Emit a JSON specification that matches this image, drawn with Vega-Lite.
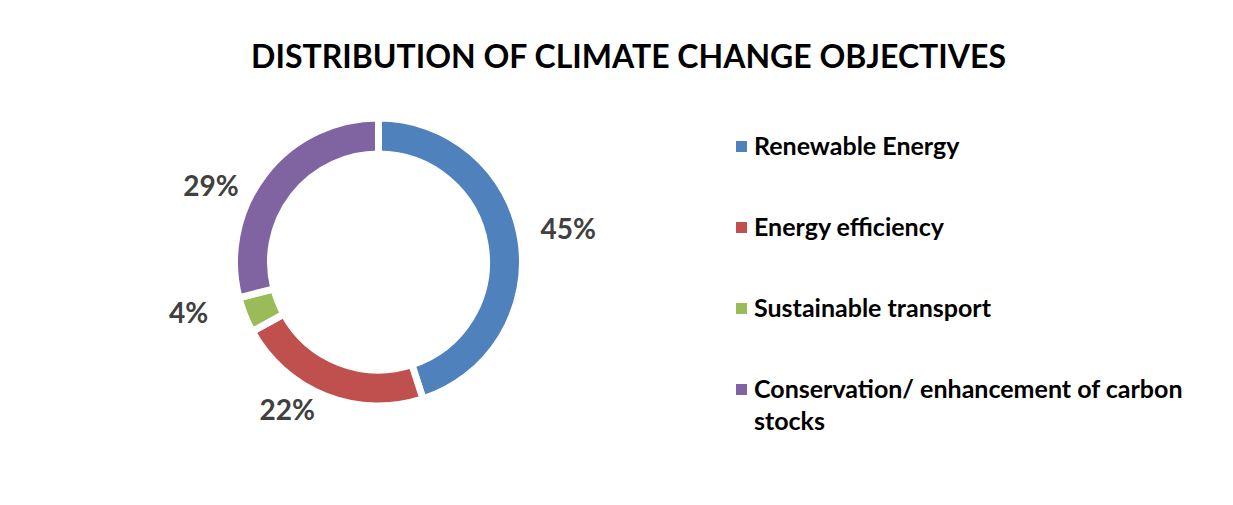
{
  "$schema": "https://vega.github.io/schema/vega-lite/v6.json",
  "autosize": "none",
  "width": 561,
  "height": 322,
  "padding": {"left": 98, "top": 101, "right": 574, "bottom": 82},
  "background": "white",
  "config": {
    "style": {"guide-label": {"lineHeight": 32}}
  },
  "title": {
    "text": "DISTRIBUTION OF CLIMATE CHANGE OBJECTIVES",
    "font": "Lato",
    "fontSize": 32,
    "fontWeight": "bold",
    "color": "#000000",
    "anchor": "middle",
    "dx": 250,
    "offset": 26,
    "limit": 1200
  },
  "data": {
    "values": [
      {"category": "Renewable Energy", "share": 45, "label": "45%", "order": 1},
      {"category": "Energy efficiency", "share": 22, "label": "22%", "order": 2},
      {"category": "Sustainable transport", "share": 4, "label": "4%", "order": 3},
      {"category": "Conservation/ enhancement of carbon stocks", "share": 29, "label": "29%", "order": 4}
    ]
  },
  "encoding": {
    "theta": {"field": "share", "type": "quantitative", "stack": true},
    "order": {"field": "order", "type": "quantitative"}
  },
  "layer": [
    {
      "mark": {"type": "arc", "innerRadius": 108, "outerRadius": 144, "stroke": "white", "strokeWidth": 7},
      "encoding": {
        "color": {
          "field": "category",
          "type": "nominal",
          "sort": ["Renewable Energy", "Energy efficiency", "Sustainable transport", "Conservation/ enhancement of carbon stocks"],
          "scale": {
            "domain": ["Renewable Energy", "Energy efficiency", "Sustainable transport", "Conservation/ enhancement of carbon stocks"],
            "range": ["#4F81BD", "#C0504D", "#9BBB59", "#8064A2"]
          },
          "legend": {
            "title": null,
            "orient": "none",
            "legendX": 631,
            "legendY": 33,
            "symbolType": "square",
            "symbolSize": 121,
            "symbolStrokeWidth": 0,
            "labelFont": "Lato",
            "labelFontSize": 25,
            "labelFontWeight": "bold",
            "labelColor": "#000000",
            "labelOffset": 0,
            "labelLimit": 600,
            "rowPadding": 55,
            "labelBaseline": "middle",
            "labelExpr": "datum.label == 'Conservation/ enhancement of carbon stocks' ? ['Conservation/ enhancement of carbon', 'stocks'] : datum.label",
            "encode": {
              "labels": {
                "update": {"lineHeight": {"value": 32}}
              }
            }
          }
        }
      }
    },
    {
      "mark": {"type": "text", "radius": 188, "font": "Lato", "fontSize": 28, "fontWeight": "bold", "color": "#404040", "dx": 4, "dy": -2},
      "encoding": {
        "text": {"condition": {"test": "datum.label == '45%'", "field": "label"}, "value": ""}
      }
    },
    {
      "mark": {"type": "text", "radius": 188, "font": "Lato", "fontSize": 28, "fontWeight": "bold", "color": "#404040", "dx": -22, "dy": -25},
      "encoding": {
        "text": {"condition": {"test": "datum.label == '22%'", "field": "label"}, "value": ""}
      }
    },
    {
      "mark": {"type": "text", "radius": 188, "font": "Lato", "fontSize": 28, "fontWeight": "bold", "color": "#404040", "dx": -15, "dy": -16},
      "encoding": {
        "text": {"condition": {"test": "datum.label == '4%'", "field": "label"}, "value": ""}
      }
    },
    {
      "mark": {"type": "text", "radius": 188, "font": "Lato", "fontSize": 28, "fontWeight": "bold", "color": "#404040", "dx": -19, "dy": 41},
      "encoding": {
        "text": {"condition": {"test": "datum.label == '29%'", "field": "label"}, "value": ""}
      }
    }
  ]
}
